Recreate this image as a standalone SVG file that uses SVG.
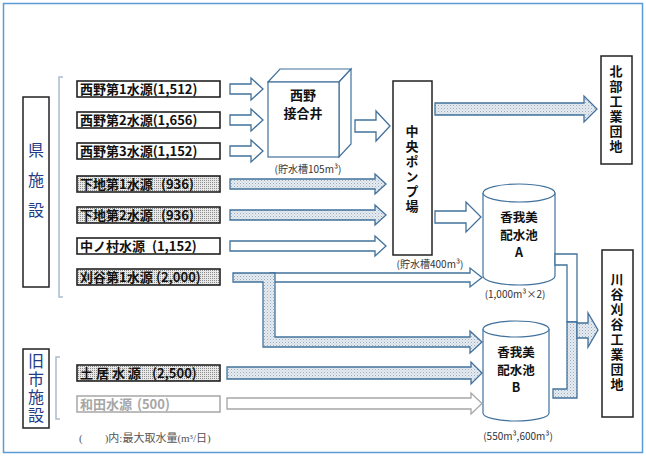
<svg xmlns="http://www.w3.org/2000/svg" width="646" height="459" viewBox="0 0 646 459">
<defs>
<pattern id="dotA" width="3" height="3" patternUnits="userSpaceOnUse"><rect width="3" height="3" fill="#E6ECF2"/><rect width="1" height="1" fill="#9AAABB"/><rect x="1.5" y="1.5" width="1" height="1" fill="#B8C4D0"/></pattern>
<pattern id="dotB" width="2" height="2" patternUnits="userSpaceOnUse"><rect width="2" height="2" fill="#E8E8E8"/><rect width="1" height="1" fill="#8C8C8C"/></pattern>
<style>
.src{fill:#fff;stroke:#222;stroke-width:1.6}
.srcS{fill:url(#dotB);stroke:#222;stroke-width:1.6}
.lbl{font-family:"Noto Sans CJK JP","Liberation Sans",sans-serif;font-size:13px;font-weight:bold;fill:#111}
.nd{font-family:"Noto Sans CJK JP","Liberation Sans",sans-serif;font-size:13px;font-weight:bold;fill:#111;text-anchor:middle}
.cy{font-size:12.5px}
.vt{writing-mode:vertical-rl}
.cap{font-family:"Noto Sans CJK JP","Liberation Sans",sans-serif;font-size:10px;fill:#333;text-anchor:middle}
.grp{font-family:"Noto Sans CJK JP","Liberation Sans",sans-serif;font-size:16px;fill:#1F3C88;text-anchor:middle;writing-mode:vertical-rl}
.aw{fill:#fff;stroke:#41719C;stroke-width:1.3;stroke-linejoin:miter}
.as{fill:url(#dotA);stroke:#41719C;stroke-width:1.3;stroke-linejoin:miter}
.box{fill:#fff;stroke:#222;stroke-width:1.5}
.brk{fill:none;stroke:#A9BCCF;stroke-width:1.5}
</style>
</defs>
<rect x="3.5" y="3.5" width="639" height="449" fill="#fff" stroke="#5B9BD5" stroke-width="1.5"/>

<g id="group-ken">
<rect class="box" x="23" y="97" width="26" height="190"/>
<text class="grp" x="36" y="187" letter-spacing="14">県施設</text>
<path class="brk" d="M63,77 H59 V297 H63"/>
</g>
<g id="group-kyushi">
<rect class="box" x="23" y="349" width="26" height="79"/>
<text class="grp" x="36" y="389" letter-spacing="2">旧市施設</text>
<path class="brk" d="M60,357 H56 V419 H60"/>
</g>

<g id="src-nishino1"><rect class="src" x="77" y="81" width="143" height="16"/><text class="lbl" x="80" y="94">西野第1水源(1,512)</text></g>
<g id="src-nishino2"><rect class="src" x="77" y="112" width="143" height="16"/><text class="lbl" x="80" y="125">西野第2水源(1,656)</text></g>
<g id="src-nishino3"><rect class="src" x="77" y="143" width="143" height="16"/><text class="lbl" x="80" y="156">西野第3水源(1,152)</text></g>
<g id="src-shimoji1"><rect class="srcS" x="77" y="176" width="143" height="16"/><text class="lbl" x="80" y="189">下地第1水源 <tspan x="161">(936)</tspan></text></g>
<g id="src-shimoji2"><rect class="srcS" x="77" y="207" width="143" height="16"/><text class="lbl" x="80" y="220">下地第2水源 <tspan x="161">(936)</tspan></text></g>
<g id="src-nakanomura"><rect class="src" x="77" y="238" width="143" height="16"/><text class="lbl" x="80" y="251">中ノ村水源 <tspan x="152">(1,152)</tspan></text></g>
<g id="src-kariya1"><rect class="srcS" x="77" y="269" width="143" height="16"/><text class="lbl" x="80" y="282">刈谷第1水源 <tspan x="156">(2,000)</tspan></text></g>
<g id="src-doi"><rect class="srcS" x="77" y="365" width="143" height="16"/><text class="lbl" x="80" y="378">土 居 水 源 <tspan x="152">(2,500)</tspan></text></g>
<g id="src-wada"><rect x="77" y="396" width="143" height="16" fill="#fff" stroke="#A6A6A6" stroke-width="1.5"/><text class="lbl" x="80" y="409" style="fill:#A6A6A6">和田水源 <tspan x="137">(500)</tspan></text></g>

<g id="nishino-setsugoi">
<polygon points="268,82 280,69 351,69 339,82" fill="#fff" stroke="#41719C" stroke-width="1.2"/>
<polygon points="339,82 351,69 351,144 339,157" fill="#fff" stroke="#41719C" stroke-width="1.2"/>
<rect x="268" y="82" width="71" height="75" fill="#fff" stroke="#41719C" stroke-width="1.2"/>
<text class="nd"><tspan x="303" y="100">西野</tspan><tspan x="303" y="118">接合井</tspan></text>
<text class="cap" x="308" y="173">(貯水槽105m³)</text>
</g>

<g id="chuo-pump">
<rect class="box" x="393" y="81" width="39" height="174"/>
<text class="nd vt" x="412" y="170" letter-spacing="2">中央ポンプ場</text>
<text class="cap" x="430" y="268">(貯水槽400m³)</text>
</g>

<g id="hokubu">
<rect class="box" x="601" y="56" width="31" height="108"/>
<text class="nd vt" x="616" y="110" letter-spacing="2">北部工業団地</text>
</g>

<g id="kagami-a">
<path d="M483,193 V276 A36,9 0 0 0 555,276 V193" fill="#fff" stroke="#41719C" stroke-width="1.2"/>
<ellipse cx="519" cy="193" rx="36" ry="9" fill="#fff" stroke="#41719C" stroke-width="1.2"/>
<text class="nd cy"><tspan x="519" y="222">香我美</tspan><tspan x="519" y="239.5">配水池</tspan><tspan x="519" y="257">A</tspan></text>
<text class="cap" x="515" y="298">(1,000m³×2)</text>
</g>

<g id="kagami-b">
<path d="M483,329 V413 A33,8 0 0 0 549,413 V329" fill="#fff" stroke="#41719C" stroke-width="1.2"/>
<ellipse cx="516" cy="329" rx="33" ry="8" fill="#fff" stroke="#41719C" stroke-width="1.2"/>
<text class="nd cy"><tspan x="516" y="357">香我美</tspan><tspan x="516" y="374.5">配水池</tspan><tspan x="516" y="392">B</tspan></text>
<text class="cap" x="518" y="440">(550m³,600m³)</text>
</g>

<g id="kawatani">
<rect class="box" x="602" y="250" width="31" height="167"/>
<text class="nd vt" x="617" y="333" letter-spacing="2">川谷刈谷工業団地</text>
</g>

<g id="connectors">
<polygon class="aw" points="230,84 251,84 251,78 263,89 251,100 251,94 230,94"/>
<polygon class="aw" points="230,115 251,115 251,109 263,120 251,131 251,125 230,125"/>
<polygon class="aw" points="230,146 251,146 251,140 263,151 251,162 251,156 230,156"/>
<polygon class="as" points="230,179 375,179 375,174 386,184 375,194 375,189 230,189"/>
<polygon class="as" points="230,210 375,210 375,205 386,215 375,225 375,220 230,220"/>
<polygon class="aw" points="230,241 375,241 375,236 386,246 375,256 375,251 230,251"/>
<polygon class="aw" points="355,120 376,120 376,111 390,126 376,141 376,132 355,132"/>
<polygon class="as" points="435,103 584,103 584,96 597,109 584,122 584,115 435,115"/>
<polygon class="aw" points="435,211 466,211 466,202 481,217 466,232 466,223 435,223"/>
<polygon class="aw" points="270,273 470,273 470,268 482,277.5 470,287 470,282 270,282"/>
<polygon class="as" points="233,273 275,273 275,337 470,337 470,331 482,342 470,353 470,347 263,347 263,282 233,282"/>
<polygon class="as" points="227,367 471,367 471,362 482,373 471,384 471,379 227,379"/>
<polygon points="227,398 471,398 471,393 482,403.5 471,414 471,409 227,409" fill="#fff" stroke="#A6A6A6" stroke-width="1.3"/>
<polygon class="aw" points="555,254 577,254 577,322 567,322 567,265 555,265"/>
<polygon class="as" points="567,322 577,322 577,398 553,398 553,389 567,389"/>
<polygon class="as" points="577,323 588,323 588,313 598,330 588,347 588,338 577,338"/>
</g>

<text x="79" y="442" font-family="Liberation Serif,Noto Sans CJK JP,serif" font-size="11" fill="#555">(　　)内:最大取水量(m³/日)</text>
</svg>
